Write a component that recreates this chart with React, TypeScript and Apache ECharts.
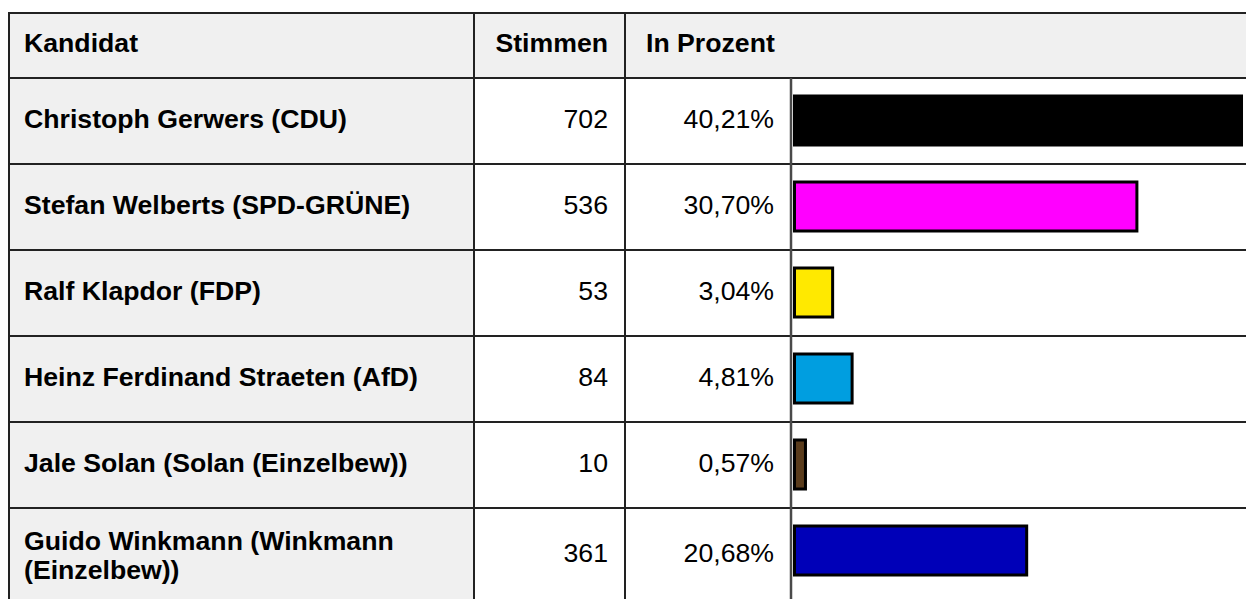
import React, { useEffect, useRef } from "react";
import * as echarts from "echarts";

// ---- data ----
const headers = ["Kandidat", "Stimmen", "In Prozent"];
const candidates = [
  "Christoph Gerwers (CDU)",
  "Stefan Welberts (SPD-GRÜNE)",
  "Ralf Klapdor (FDP)",
  "Heinz Ferdinand Straeten (AfD)",
  "Jale Solan (Solan (Einzelbew))",
  "Guido Winkmann (Winkmann (Einzelbew))",
];
const votes = [702, 536, 53, 84, 10, 361];
const percents = [40.21, 30.7, 3.04, 4.81, 0.57, 20.68];
const barColors = ["#000000", "#ff00ff", "#ffe900", "#009ee0", "#5a3c1c", "#0000b8"];

// ---- layout ----
const W = 1246;
const H = 599;
const LEFT = 9;
const TOP = 13;
const HEAD_BOTTOM = 78;
const ROW_H = 86;
const COL1 = 474;
const COL2 = 625;
const COL3 = 791;
const X_MAX = 41;
const PX_PER_UNIT = 11;
const LINE = "#222222";
const GRAY = "#f0f0f0";
const FONT = '"Liberation Sans", Arial, Helvetica, sans-serif';
const FS = 26.67;

const fmtPct = (v: number) => v.toFixed(2).replace(".", ",") + "%";

function rowCenter(i: number) {
  if (i === candidates.length - 1) return HEAD_BOTTOM + ROW_H * i + 47.5;
  return HEAD_BOTTOM + ROW_H * i + ROW_H / 2;
}

export default function App() {
  const ref = useRef<HTMLDivElement>(null);

  useEffect(() => {
    if (!ref.current) return;
    const chart = echarts.init(ref.current, null, { renderer: "svg" });

    const graphic: any[] = [];
    // backgrounds
    graphic.push({ type: "rect", z: 0, shape: { x: LEFT, y: TOP, width: W - LEFT, height: HEAD_BOTTOM - TOP }, style: { fill: GRAY } });
    graphic.push({ type: "rect", z: 0, shape: { x: LEFT, y: HEAD_BOTTOM, width: COL1 - LEFT, height: H - HEAD_BOTTOM }, style: { fill: GRAY } });

    // lines
    const hline = (y: number, x1 = LEFT, x2 = W, color = LINE, lw = 2) =>
      graphic.push({ type: "line", z: 5, shape: { x1, y1: y, x2, y2: y }, style: { stroke: color, lineWidth: lw } });
    const vline = (x: number, y1: number, y2 = H, color = LINE, lw = 2) =>
      graphic.push({ type: "line", z: 5, shape: { x1: x, y1, x2: x, y2 }, style: { stroke: color, lineWidth: lw } });

    hline(TOP, LEFT - 1, W);
    hline(HEAD_BOTTOM);
    for (let i = 1; i < candidates.length; i++) hline(HEAD_BOTTOM + ROW_H * i);
    vline(LEFT, TOP - 1);
    vline(COL1, TOP);
    vline(COL2, TOP);
    vline(COL3, HEAD_BOTTOM, H, "#4a4a4a", 2.5);

    // header texts
    const headY = (TOP + HEAD_BOTTOM) / 2 - 2.5;
    const txt = (text: string, x: number, y: number, align: string, bold: boolean, extra: any = {}) =>
      graphic.push({
        type: "text",
        z: 10,
        style: {
          text,
          x,
          y,
          align,
          verticalAlign: "middle",
          fill: "#000",
          font: `${bold ? "bold " : ""}${FS}px ${FONT}`,
          ...extra,
        },
      });
    txt(headers[0], 24, headY, "left", true);
    txt(headers[1], 608, headY, "right", true);
    txt(headers[2], 646, headY, "left", true);

    candidates.forEach((name, i) => {
      const y = rowCenter(i) - 2.5;
      txt(name, 24, y + (i === candidates.length - 1 ? 2 : 0), "left", true, {
        width: 432,
        overflow: "break",
        lineHeight: 29,
      });
      txt(String(votes[i]), 608, y, "right", false);
      txt(fmtPct(percents[i]), 774, y, "right", false);
    });

    const option: any = {
      animation: false,
      backgroundColor: "#ffffff",
      grid: { left: 794.5, top: HEAD_BOTTOM, width: PX_PER_UNIT * X_MAX, height: ROW_H * candidates.length },
      xAxis: { type: "value", min: 0, max: X_MAX, show: false },
      yAxis: { type: "category", data: candidates, inverse: true, show: false },
      series: [
        {
          type: "custom",
          z: 8,
          data: percents.map((p, i) => [p, i]),
          encode: { x: 0, y: 1 },
          renderItem: (params: any, api: any) => {
            const v = api.value(0);
            const idx = api.value(1);
            const s = api.coord([0, idx]);
            const e = api.coord([v, idx]);
            const band = api.size([0, 1])[1];
            const h = band * 0.57;
            return {
              type: "rect",
              shape: { x: s[0], y: s[1] - h / 2 - 0.5, width: e[0] - s[0] + 4.7, height: h },
              style: { fill: barColors[params.dataIndex], stroke: "#000", lineWidth: 3 },
            };
          },
        },
      ],
      graphic,
    };
    chart.setOption(option);
    return () => chart.dispose();
  }, []);

  return (
    <div
      ref={ref}
      style={{ position: "fixed", left: 0, top: 0, width: W, height: H, background: "#fff" }}
    />
  );
}
